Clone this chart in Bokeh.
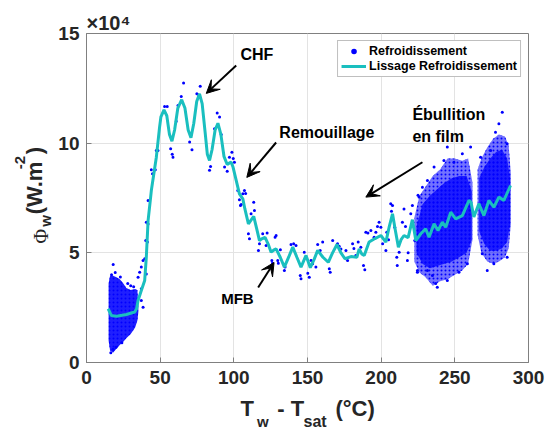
import numpy as np
from bokeh.plotting import figure
from bokeh.layouts import column, row
from bokeh.models import (Range1d, Label, Arrow, VeeHead, Legend, LegendItem, FixedTicker, Title)
from bokeh.embed import file_html
from bokeh.resources import INLINE

# ---------------- data (y in units of 1e4 W.m^-2) ----------------
smooth_x = [14.7, 16.9, 20.3, 27.1, 32.7, 34.0, 35.0, 37.2, 39.5, 40.6, 41.8, 43.3, 44.0,
            47.4, 49.6, 50.5, 52.6, 54.5, 56.3, 58.0, 59.8, 62.0, 64.6, 66.8, 69.0, 70.9,
            72.8, 74.8, 76.7, 78.5, 80.5, 82.0, 83.5, 85.2, 87.3, 89.2, 91.2, 93.3, 95.5,
            97.0, 98.2, 99.5, 101.6, 103.8, 106.1, 107.5, 109.9, 111.8, 113.5, 115.5, 117.4,
            119.3, 121.2, 123.3, 125.3, 127.0, 128.7, 131.5, 134.3, 137.2, 140.0, 142.8,
            145.6, 149.0, 151.9, 154.5, 156.9, 160.5, 164.1, 167.0, 170.0, 172.7, 175.4,
            179.5, 183.5, 185.1, 186.8, 188.5, 191.8, 195.8, 199.8, 203.2, 205.5, 207.7,
            209.7, 211.7, 213.5, 215.5, 218.3, 221.2, 223.5, 226.9, 230.2, 232.5, 235.9,
            238.6, 241.5, 243.8, 247.2, 250.6, 255.1, 259.6, 261.0, 262.9, 266.3, 269.7,
            273.1, 276.5, 279.9, 283.3, 287.8]
smooth_y = [2.45, 2.14, 2.11, 2.19, 2.30, 2.45, 2.83, 3.28, 3.74, 4.80, 6.47, 7.39, 7.84,
            9.36, 10.73, 11.20, 11.52, 11.25, 10.40, 10.09, 10.60, 11.60, 11.98, 11.60, 10.60,
            10.25, 10.90, 11.90, 12.25, 11.80, 10.50, 9.50, 9.21, 9.70, 10.60, 10.91, 10.40,
            9.40, 9.03, 9.10, 9.13, 8.90, 8.30, 7.69, 7.46, 7.00, 6.32, 6.50, 6.66, 6.10,
            5.56, 5.65, 5.71, 5.40, 5.03, 5.12, 5.18, 4.80, 4.35, 4.80, 5.26, 4.80, 4.35,
            4.88, 4.32, 4.70, 5.11, 4.80, 4.57, 5.00, 5.38, 5.00, 4.73, 4.83, 4.80, 5.18,
            4.95, 4.88, 5.49, 5.65, 5.79, 5.49, 6.20, 6.78, 6.00, 5.26, 5.60, 5.79, 5.69,
            6.51, 5.56, 5.87, 6.10, 5.71, 6.32, 6.02, 6.40, 6.17, 6.85, 6.55, 6.70, 7.39,
            7.30, 6.63, 7.24, 6.70, 7.39, 7.08, 7.54, 7.39, 8.07]

points_x = [36.1, 37.2, 38.4, 35.0, 37.2, 38.4, 37.2, 39.5, 40.6, 41.3, 40.2, 40.6, 41.8, 41.8,
            44.0, 44.8, 46.7, 47.4, 48.5,
            53.0, 54.8, 57.1, 58.7, 58.2, 60.9, 62.1, 64.3, 65.9, 70.0, 71.6, 74.9, 77.2,
            76.2, 84.2, 83.5, 86.9, 88.7, 90.3, 91.4, 93.7, 95.5, 97.0, 98.7, 100.4, 99.6,
            102.7, 103.8, 105.0, 106.1, 104.5, 107.2, 108.0, 113.5, 114.0, 111.7, 109.9,
            110.6, 117.4, 116.7, 119.6, 122.6, 121.9, 125.8, 126.2, 128.7, 130.2,
            128.0, 129.8, 131.6, 134.3, 134.8, 138.8, 140.6, 142.2, 145.1, 145.6, 147.8,
            150.2, 151.2, 152.4, 153.5, 155.7, 156.9, 158.6, 160.3, 164.8, 165.4, 167.1,
            170.4, 171.5, 172.7, 176.1, 177.2, 180.6, 181.5, 182.8, 184.4, 186.2, 188.0,
            188.9, 189.6, 191.0, 193.0, 195.2, 196.4, 198.6, 197.5, 199.8, 201.0, 203.2,
            203.8, 205.0, 206.5, 207.7, 207.0, 209.2, 210.6, 210.9, 212.2, 214.4, 215.5,
            216.5, 217.8, 218.3, 220.1, 221.5, 222.8, 224.6, 225.0,
            282.2, 279.9, 277.6, 285.5, 274.3, 267.5, 260.7, 255.1, 249.4, 244.9, 242.6,
            235.9, 231.4, 228.0, 225.7, 221.2, 238.1, 237.0, 234.8, 231.4, 224.6, 244.9,
            252.8, 258.5, 272.0, 276.5, 285.5, 268.6,
            16.5, 18.0, 20.0, 24.0, 17.0, 19.5, 23.0, 28.0, 30.0, 32.0, 18.1]
points_y = [4.12, 4.35, 4.65, 3.89, 2.83, 2.52, 3.36, 4.73, 4.04, 5.49, 5.56, 6.40, 6.32, 7.39,
            8.79, 8.60, 8.79, 9.67, 9.67,
            11.67, 11.67, 9.74, 9.36, 9.50, 11.00, 11.72, 12.13, 12.74, 10.05, 9.70, 12.25,
            12.59, 12.20, 8.94, 8.76, 10.66, 11.37, 11.19, 10.40, 8.91, 8.72, 9.36, 9.59,
            9.13, 9.30,
            7.84, 7.42, 7.20, 7.69, 7.16, 7.84, 7.70, 7.31, 6.93, 6.78, 5.87,
            5.64, 5.41, 5.11, 5.87, 5.90, 5.34, 4.65, 4.53, 5.79, 4.53,
            5.71, 4.65, 5.14, 4.20, 4.35, 5.38, 5.41, 5.34, 3.97, 3.82, 5.03,
            4.07, 3.89, 4.65, 4.50, 4.35, 5.38, 5.11, 5.49, 4.27, 4.12, 5.56,
            5.41, 5.30, 5.18, 5.11, 4.65, 5.41, 5.20, 4.88, 5.49, 5.26, 4.42,
            4.23, 5.94, 5.90, 6.02, 5.71, 5.94, 6.40, 6.20, 6.17, 5.41, 5.11,
            5.94, 5.60, 7.24, 7.16, 6.90, 6.17, 4.80, 4.42, 5.03, 6.40, 7.00,
            6.20, 4.65, 5.00, 6.78, 6.40, 5.56, 4.20, 7.62,
            11.41, 10.88, 10.50, 9.97, 9.67, 9.36, 9.82, 9.52, 9.13, 9.82, 9.21,
            8.91, 8.30, 7.99, 7.54, 7.16, 3.43, 3.60, 3.97, 4.20, 4.12, 3.74,
            4.12, 4.50, 4.20, 4.50, 4.80, 4.96,
            0.45, 0.60, 0.70, 0.90, 4.00, 4.10, 3.90, 3.60, 3.50, 3.45, 4.47]

# dense point clouds: upper / lower envelopes
c1_x = [15.0, 16.0, 18.0, 20.0, 22.6, 25.0, 27.0, 30.0, 33.0, 34.5, 35.2]
c1_hi = [3.60, 3.95, 3.95, 3.90, 3.80, 3.60, 3.40, 3.30, 3.35, 3.30, 2.60]
c1_lo = [1.00, 0.55, 0.45, 0.60, 0.80, 0.95, 1.10, 1.30, 1.60, 1.90, 2.30]

c2_x = [222.5, 226.0, 230.0, 235.0, 240.0, 245.0, 250.0, 255.0, 259.0, 262.0]
c2_hi = [6.6, 7.6, 8.0, 8.5, 8.8, 9.3, 9.3, 9.2, 9.3, 8.2]
c2_lo = [4.6, 4.1, 3.9, 3.5, 3.7, 3.8, 4.0, 4.2, 4.5, 5.6]
c2c_x = [224.0, 228.0, 233.0, 238.0, 243.0, 248.0, 253.0, 258.0, 261.5]
c2c_hi = [6.2, 7.2, 7.6, 7.9, 8.2, 8.4, 8.5, 8.5, 7.8]
c2c_lo = [5.0, 4.5, 4.3, 4.4, 4.5, 4.6, 4.8, 5.0, 5.6]

c3_x = [265.5, 268.0, 272.0, 276.0, 280.0, 284.0, 286.5, 288.0]
c3_hi = [8.8, 9.3, 9.8, 10.2, 10.4, 10.3, 9.9, 8.6]
c3_lo = [5.8, 5.0, 4.6, 4.5, 4.6, 4.8, 5.2, 6.3]
c3c_x = [266.5, 270.0, 274.0, 278.0, 282.0, 285.5, 287.5]
c3c_hi = [8.4, 8.9, 9.3, 9.6, 9.7, 9.3, 8.4]
c3c_lo = [6.0, 5.4, 5.1, 5.1, 5.2, 5.5, 6.3]

x_ticks = [0, 50, 100, 150, 200, 250, 300]
y_ticks = [0, 5, 10, 15]

BLUE = "#0000ff"
CYAN = "#1abfbf"
FONT = "Liberation Sans"
TXT = "#262626"

# layout sizes (pixels)
W = 547
MID_H = 395
BOT_H = 35
LEFT_W = 55

p = figure(width=W - LEFT_W, height=MID_H, x_range=Range1d(0, 300), y_range=Range1d(0, 15),
           output_backend="svg", toolbar_location=None,
           min_border_left=85 - LEFT_W, min_border_right=19, min_border_top=33,
           min_border_bottom=33)
p.background_fill_color = "white"
p.border_fill_color = "white"
p.outline_line_color = "#808080"
p.outline_line_width = 1

for ax, ticks in ((p.xaxis, x_ticks), (p.yaxis, y_ticks)):
    ax.ticker = FixedTicker(ticks=ticks)
    ax.axis_line_color = "#808080"
    ax.major_tick_line_color = "#808080"
    ax.major_tick_in = 5
    ax.major_tick_out = 0
    ax.minor_tick_line_color = None
    ax.major_label_text_font = FONT
    ax.major_label_text_font_style = "bold"
    ax.major_label_text_font_size = "19px"
    ax.major_label_text_color = TXT
p.xaxis.major_label_standoff = 8
p.yaxis.major_label_standoff = 7

p.grid.grid_line_color = "#e3e3e3"
p.grid.grid_line_width = 1

# exponent of the y axis, as a title above the frame
p.add_layout(Title(text="×10⁴", align="left", offset=0, standoff=0,
                   text_font=FONT, text_font_size="20px", text_font_style="bold",
                   text_line_height=1.0, text_color=TXT), "above")

# clouds
p.varea(x=c1_x, y1=c1_lo, y2=c1_hi, fill_color=BLUE, fill_alpha=0.88,
        hatch_pattern="dot", hatch_color=BLUE, hatch_scale=4, hatch_alpha=1.0)
for cx, lo, hi in ((c2_x, c2_lo, c2_hi), (c3_x, c3_lo, c3_hi)):
    p.varea(x=cx, y1=lo, y2=hi, fill_color=BLUE, fill_alpha=0.55,
            hatch_pattern="dot", hatch_color=BLUE, hatch_scale=4, hatch_alpha=1.0)
for cx, lo, hi in ((c2c_x, c2c_lo, c2c_hi), (c3c_x, c3c_lo, c3c_hi)):
    p.varea(x=cx, y1=lo, y2=hi, fill_color=BLUE, fill_alpha=0.75,
            hatch_pattern="dot", hatch_color=BLUE, hatch_scale=4, hatch_alpha=1.0)

r_pts = p.scatter(points_x, points_y, size=3, color=BLUE, line_width=0)
r_line = p.line(smooth_x, smooth_y, line_color=CYAN, line_width=3)

legend = Legend(items=[LegendItem(label="Refroidissement", renderers=[r_pts]),
                       LegendItem(label="Lissage Refroidissement", renderers=[r_line])],
                location="top_right", margin=7, padding=3, spacing=1,
                label_height=14, glyph_height=14, glyph_width=25, label_standoff=3,
                label_text_font=FONT, label_text_font_style="bold",
                label_text_font_size="12.5px", label_text_color="black",
                border_line_color="#808080", border_line_width=1,
                background_fill_color="white", background_fill_alpha=1)
p.add_layout(legend, "center")


def txt(fig, x, y, s, size="16px", bold=True, angle=0.0, font=FONT, color="black"):
    fig.add_layout(Label(x=x, y=y, text=s, text_font=font, text_font_size=size,
                         text_font_style="bold" if bold else "normal",
                         text_color=color, text_align="left",
                         text_baseline="middle", angle=angle))


def arrow(xs, ys, xe, ye):
    p.add_layout(Arrow(x_start=xs, y_start=ys, x_end=xe, y_end=ye, line_width=2,
                       line_color="black",
                       end=VeeHead(size=13, fill_color="black", line_color="black")))


txt(p, 104.5, 14.04, "CHF")
arrow(101.6, 13.54, 81.3, 12.27)
txt(p, 130.9, 10.47, "Remouillage")
arrow(128.7, 10.03, 108.8, 8.44)
txt(p, 221.2, 11.31, "Ébullition")
txt(p, 221.2, 10.31, "en film")
arrow(228.0, 9.13, 189.6, 7.54)
txt(p, 91.4, 2.94, "MFB", size="15px")
arrow(116.5, 3.42, 127.3, 4.56)


def strip(w, h):
    f = figure(width=w, height=h, x_range=Range1d(0, w), y_range=Range1d(0, h),
               output_backend="svg", toolbar_location=None,
               x_axis_type=None, y_axis_type=None,
               min_border=0, min_border_left=0, min_border_right=0,
               min_border_top=0, min_border_bottom=0)
    f.outline_line_color = None
    f.grid.visible = False
    f.background_fill_color = "white"
    f.border_fill_color = "white"
    return f


# left strip: Φ_w (W.m^-2)  (rotated; x is the glyph centre line, y = 395 - picture y)
left = strip(LEFT_W, MID_H)
A = np.pi / 2
txt(left, 40, 143, "Φ", size="20px", bold=False, angle=A, font="Liberation Serif", color=TXT)
txt(left, 45, 163, "w", size="15px", angle=A, color=TXT)
txt(left, 34, 178, "(W.m", size="22px", angle=A, color=TXT)
txt(left, 19, 232, "-2", size="15px", angle=A, color=TXT)
txt(left, 34, 250, ")", size="22px", angle=A, color=TXT)

# bottom strip: T_w - T_sat (°C)
bot = strip(W, BOT_H)
txt(bot, 240, 22, "T", size="22px", color=TXT)
txt(bot, 256.5, 9, "w", size="15px", color=TXT)
txt(bot, 276.7, 22, "- T", size="22px", color=TXT)
txt(bot, 303, 9, "sat", size="16px", color=TXT)
txt(bot, 335, 22, "(°C)", size="22px", color=TXT)

layout = column(row(left, p), bot)
open("out.html", "w").write(file_html(layout, INLINE))
